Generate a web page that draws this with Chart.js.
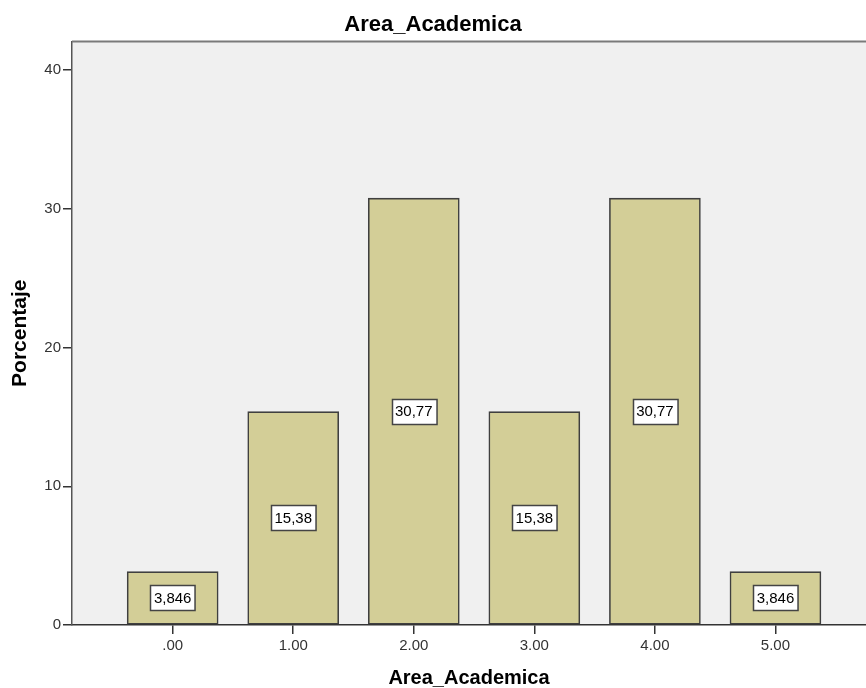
<!DOCTYPE html>
<html>
<head>
<meta charset="utf-8">
<title>Area_Academica</title>
<script src="https://cdn.jsdelivr.net/npm/chart.js@4/dist/chart.umd.min.js"></script>
<style>
  html, body { margin: 0; padding: 0; background: #ffffff; }
  canvas { display: block; }
</style>
</head>
<body>
<canvas id="chart" width="866" height="688"></canvas>
<script>
// Category codes of Area_Academica and their axis labels
const categories = [0, 1, 2, 3, 4, 5];
const tickLabels = ['.00', '1.00', '2.00', '3.00', '4.00', '5.00'];
// Percentage of cases in each category
const percentages = [3.846, 15.38, 30.77, 15.38, 30.77, 3.846];
// Value axis ticks
const yTicks = [0, 10, 20, 30, 40];

const FONT = '"Liberation Sans", Arial, Helvetica, sans-serif';

// Value shown in the box: four significant digits, decimal comma
function formatValue(v) {
  return Number(v).toPrecision(4).replace('.', ',');
}

// Light grey plot background and white page
const plotBackground = {
  id: 'plotBackground',
  beforeDraw(chart) {
    const { ctx, chartArea: a } = chart;
    ctx.save();
    ctx.fillStyle = '#ffffff';
    ctx.fillRect(0, 0, chart.width, chart.height);
    ctx.fillStyle = '#f0f0f0';
    ctx.fillRect(a.left, a.top, a.right - a.left, a.bottom - a.top);
    ctx.restore();
  },
  afterDraw(chart) {
    const { ctx, chartArea: a } = chart;
    ctx.save();
    ctx.strokeStyle = '#7a7a7a';
    ctx.lineWidth = 2;
    ctx.beginPath();
    ctx.moveTo(a.left, a.top);
    ctx.lineTo(chart.width, a.top);
    ctx.stroke();
    ctx.restore();
  }
};

// Boxed value label at the middle of each bar
const barValueBoxes = {
  id: 'barValueBoxes',
  afterDatasetsDraw(chart) {
    const { ctx } = chart;
    const meta = chart.getDatasetMeta(0);
    const values = chart.data.datasets[0].data;
    ctx.save();
    ctx.font = '15px ' + FONT;
    ctx.textAlign = 'center';
    ctx.textBaseline = 'middle';
    meta.data.forEach((bar, i) => {
      const text = formatValue(values[i].y);
      const cx = bar.x;
      const cy = (bar.y + bar.base) / 2;
      const w = ctx.measureText(text).width + 7;
      const h = 25;
      const left = Math.round(cx - w / 2) + 0.5;
      const top = Math.round(cy - h / 2) + 0.5;
      ctx.fillStyle = '#ffffff';
      ctx.fillRect(left, top, w, h);
      ctx.strokeStyle = '#444444';
      ctx.lineWidth = 1.5;
      ctx.strokeRect(left, top, w, h);
      ctx.fillStyle = '#000000';
      ctx.fillText(text, cx, cy + 1);
    });
    ctx.restore();
  }
};

new Chart(document.getElementById('chart'), {
  type: 'bar',
  data: {
    datasets: [{
      data: categories.map((c, i) => ({ x: c, y: percentages[i] })),
      backgroundColor: '#d3ce97',
      borderColor: '#3f3f3f',
      borderWidth: 1.6,
      borderSkipped: false,
      barThickness: 91
    }]
  },
  options: {
    responsive: false,
    animation: false,
    devicePixelRatio: 1,
    layout: { padding: 0 },
    plugins: {
      legend: { display: false },
      tooltip: { enabled: false },
      title: {
        display: true,
        text: 'Area_Academica',
        color: '#000000',
        font: { family: FONT, size: 22, weight: 'bold' },
        padding: { top: 12, bottom: 3 }
      }
    },
    scales: {
      x: {
        type: 'linear',
        min: -0.835,
        max: 5.751,
        offset: false,
        afterBuildTicks(scale) {
          scale.ticks = categories.map(v => ({ value: v }));
        },
        afterFit(scale) { scale.height = 63; },
        ticks: {
          autoSkip: false,
          maxRotation: 0,
          padding: 3,
          color: '#333333',
          font: { family: FONT, size: 15 },
          callback(value) { return tickLabels[categories.indexOf(value)]; }
        },
        grid: {
          offset: false,
          drawOnChartArea: false,
          drawTicks: true,
          tickLength: 9,
          color: '#333333',
          lineWidth: 1.5
        },
        border: { display: true, color: '#333333', width: 1.5 },
        title: {
          display: true,
          text: 'Area_Academica',
          color: '#000000',
          font: { family: FONT, size: 20, weight: 'bold', lineHeight: 1 },
          padding: { top: 0, bottom: 0 }
        }
      },
      y: {
        min: 0,
        max: 42.07,
        afterBuildTicks(scale) {
          scale.ticks = yTicks.map(v => ({ value: v }));
        },
        afterFit(scale) { scale.width = 72; },
        ticks: {
          padding: 2,
          color: '#333333',
          font: { family: FONT, size: 15 }
        },
        grid: {
          drawOnChartArea: false,
          drawTicks: true,
          tickLength: 9,
          color: '#333333',
          lineWidth: 1.5
        },
        border: { display: true, color: '#555555', width: 1.5 },
        title: {
          display: true,
          text: 'Porcentaje',
          color: '#000000',
          font: { family: FONT, size: 21, weight: 'bold' },
          padding: { top: 8, bottom: 0 }
        }
      }
    }
  },
  plugins: [plotBackground, barValueBoxes]
});
</script>
</body>
</html>
